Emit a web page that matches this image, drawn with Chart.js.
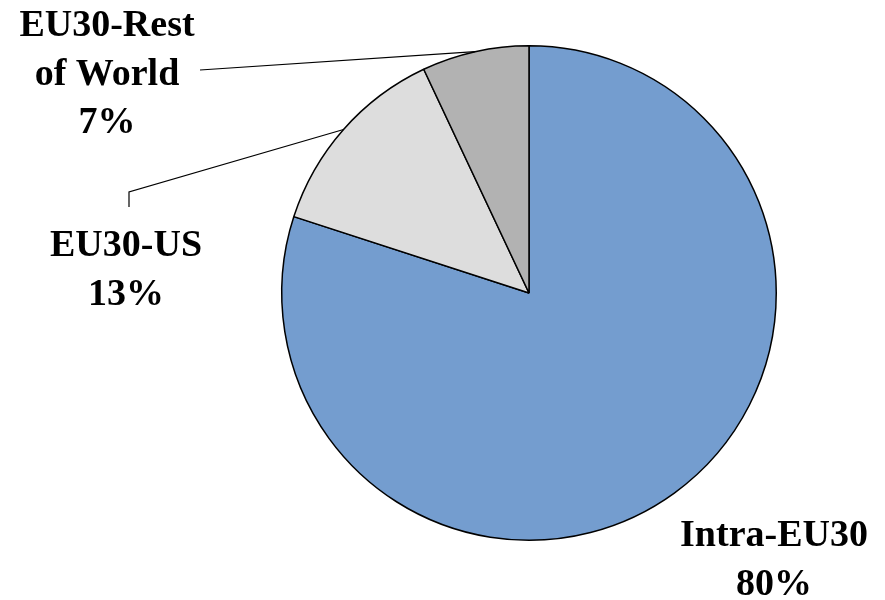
<!DOCTYPE html>
<html>
<head>
<meta charset="utf-8">
<script src="https://cdn.jsdelivr.net/npm/chart.js@4/dist/chart.umd.min.js"></script>
<style>
    html, body { margin: 0; padding: 0; background: #fff; }
    #wrap { width: 885px; height: 600px; }
</style>
</head>
<body>
<div id="wrap"><canvas id="pie"></canvas></div>
<script>
const categories = ['Intra-EU30', 'EU30-US', 'EU30-Rest of World'];
const shares = [80, 13, 7];
const labelLines = [['Intra-EU30', '80%'], ['EU30-US', '13%'], ['EU30-Rest', 'of World', '7%']];
const sliceColors = ['#749dcf', '#dddddd', '#b2b2b2'];

// where each label sits (centre x, first baseline) and the elbow of its leader line
const labelSpots = [
    { x: 774, y: 546, leader: null },
    { x: 126, y: 256, leader: [[129, 207], [129, 192]] },
    { x: 107, y: 36, leader: [[200, 70]] }
];

const outsideLabels = {
    id: 'outsideLabels',
    afterDraw(chart) {
        const ctx = chart.ctx;
        const arcs = chart.getDatasetMeta(0).data;
        ctx.save();
        ctx.strokeStyle = '#000';
        ctx.lineWidth = 1.2;
        arcs.forEach((arc, i) => {
            const spot = labelSpots[i];
            if (spot.leader) {
                const mid = (arc.startAngle + arc.endAngle) / 2;
                const ex = arc.x + Math.cos(mid) * arc.outerRadius;
                const ey = arc.y + Math.sin(mid) * arc.outerRadius;
                ctx.beginPath();
                ctx.moveTo(spot.leader[0][0], spot.leader[0][1]);
                spot.leader.slice(1).forEach(p => ctx.lineTo(p[0], p[1]));
                ctx.lineTo(ex, ey);
                ctx.stroke();
            }
            ctx.fillStyle = '#000';
            ctx.font = 'bold 38px "Liberation Serif", "Times New Roman", serif';
            ctx.textAlign = 'center';
            ctx.textBaseline = 'alphabetic';
            labelLines[i].forEach((line, k) => {
                ctx.fillText(line, spot.x, spot.y + k * 48.5);
            });
        });
        ctx.restore();
    }
};

new Chart(document.getElementById('pie').getContext('2d'), {
    type: 'pie',
    data: {
        labels: categories,
        datasets: [{
            data: shares,
            backgroundColor: sliceColors,
            borderColor: '#000',
            borderWidth: 1.5
        }]
    },
    options: {
        responsive: true,
        maintainAspectRatio: false,
        animation: false,
        layout: { padding: { top: 45, bottom: 59, left: 281, right: 108 } },
        plugins: {
            legend: { display: false },
            tooltip: { enabled: false }
        }
    },
    plugins: [outsideLabels]
});
</script>
</body>
</html>
